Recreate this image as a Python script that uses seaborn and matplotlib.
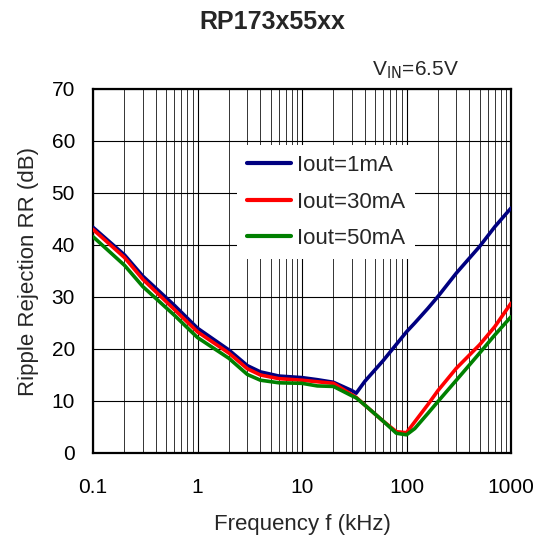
import numpy as np
import pandas as pd
import matplotlib
matplotlib.use("Agg")
import matplotlib.pyplot as plt
from matplotlib.ticker import LogLocator, NullFormatter
import seaborn as sns

# values
freq_khz = [0.1, 0.2, 0.3, 0.6, 1, 2, 3, 4, 6, 10, 14, 20, 30, 33, 40, 60,
            80, 100, 120, 160, 200, 300, 500, 700, 1000]
rr_1ma = [43.4, 38.1, 34.0, 28.4, 24.0, 19.8, 16.8, 15.6, 14.8, 14.5, 14.1,
          13.6, 12.0, 11.5, 13.8, 17.8, 20.9, 23.3, 25.0, 27.8, 30.1, 34.6,
          39.7, 43.5, 47.1]
rr_30ma = [43.0, 37.6, 33.4, 27.6, 23.3, 19.2, 16.2, 15.0, 14.3, 14.0, 13.7,
           13.4, 11.2, 10.7, 9.2, 6.1, 4.1, 3.9, 6.0, 9.3, 12.0, 16.3, 20.8,
           24.3, 28.8]
rr_50ma = [41.6, 36.1, 32.0, 26.5, 22.2, 18.2, 15.1, 14.0, 13.5, 13.4, 12.9,
           12.8, 11.0, 10.6, 9.2, 6.1, 3.8, 3.5, 4.7, 7.6, 9.9, 14.0, 19.2,
           22.7, 26.2]
series_names = ["Iout=1mA", "Iout=30mA", "Iout=50mA"]
series_colors = ["#000080", "#ff0000", "#008000"]
x_ticks = [0.1, 1, 10, 100, 1000]
x_tick_labels = ["0.1", "1", "10", "100", "1000"]
y_ticks = [0, 10, 20, 30, 40, 50, 60, 70]

df = pd.concat([
    pd.DataFrame({"freq": freq_khz, "rr": vals, "load": name})
    for name, vals in zip(series_names, [rr_1ma, rr_30ma, rr_50ma])
])

sns.set_style("white")
plt.rcParams["font.family"] = ["Liberation Sans", "DejaVu Sans"]

fig = plt.figure(figsize=(5.45, 5.46), dpi=100)
ax = fig.add_axes([93 / 545, 1 - 453 / 546, 418 / 545, 364 / 546])

sns.lineplot(data=df, x="freq", y="rr", hue="load", palette=series_colors,
             hue_order=series_names, linewidth=2.6, ax=ax, zorder=3)

ax.set_xscale("log")
ax.set_xlim(0.1, 1000)
ax.set_ylim(0, 70)
ax.set_xticks(x_ticks)
ax.set_xticklabels(x_tick_labels)
ax.xaxis.set_minor_locator(LogLocator(base=10, subs=np.arange(2, 10)))
ax.xaxis.set_minor_formatter(NullFormatter())
ax.set_yticks(y_ticks)

ax.grid(which="major", axis="both", color="black", linewidth=0.8)
ax.grid(which="minor", axis="x", color="#333333", linewidth=0.7)
for s in ax.spines.values():
    s.set_color("black")
    s.set_linewidth(1.6)
ax.tick_params(axis="both", which="both", length=0, labelsize=15, colors="black")
ax.tick_params(axis="x", pad=18)
ax.tick_params(axis="y", pad=13)

ax.set_xlabel("Frequency f (kHz)", fontsize=16)
ax.set_ylabel("Ripple Rejection RR (dB)", fontsize=16)
ax.xaxis.set_label_coords(0.5, -0.168)
ax.yaxis.set_label_coords(-0.13, 0.5)

leg = ax.legend(loc="upper left", bbox_to_anchor=(0.344, 0.846), borderaxespad=0,
                frameon=True, fontsize=16, handlelength=2.0, handletextpad=0.25,
                labelspacing=0.7, borderpad=0.45)
leg.get_frame().set_facecolor("white")
leg.get_frame().set_edgecolor("none")
leg.get_frame().set_alpha(1)
leg.set_zorder(5)
for line in leg.get_lines():
    line.set_linewidth(3)

fig.text(0.5, 1 - 22 / 546, "RP173x55xx", ha="center", va="center",
         fontsize=18, fontweight="bold")
fig.text(372 / 545, 1 - 70 / 546, r"V$_{\mathrm{IN}}$=6.5V", ha="left",
         va="center", fontsize=15)

fig.savefig("out.png", dpi=100)
